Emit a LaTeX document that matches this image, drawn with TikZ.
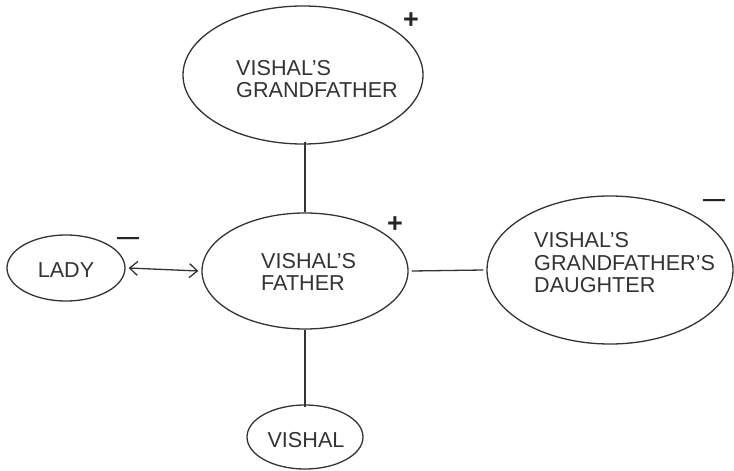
\documentclass[tikz,border=0pt]{standalone}
\usepackage{fontspec}
\setmainfont{Liberation Sans}
\usetikzlibrary{shapes.geometric,arrows.meta}
\begin{document}
\begin{tikzpicture}[x=1pt,y=-1pt,
  person/.style={draw=black!80,line width=1.3pt,ellipse,inner sep=0pt},
  kinlabel/.style={text=black!80,font=\fontsize{21.6}{22.5}\selectfont,align=left,inner sep=0pt},
  kinsign/.style={text=black!85,inner sep=0pt},
  kinlink/.style={draw=black!80,line width=1.3pt}]
\useasboundingbox (0,0) rectangle (734,471);
% relatives as ellipses
\node[person,minimum width=240,minimum height=138] (gf) at (303,75) {};
\node[person,minimum width=206,minimum height=116] (fa) at (305,271) {};
\node[person,minimum width=118,minimum height=66] (la) at (66,268) {};
\node[person,minimum width=246,minimum height=148] (da) at (610,270) {};
\node[person,minimum width=116,minimum height=64] (vi) at (305,437) {};
% their names
\node[kinlabel,anchor=west] (gft) at (236,79) {VISHAL'S\\GRANDFATHER};
\node[kinlabel,anchor=west] (fat) at (261,272) {VISHAL'S\\FATHER};
\node[kinlabel] (lat) at (66,270) {LADY};
\node[kinlabel,anchor=west] (dat) at (534,263) {VISHAL'S\\GRANDFATHER'S\\DAUGHTER};
\node[kinlabel] (vit) at (306,440) {VISHAL};
% signs
\node[kinsign,font=\bfseries\fontsize{27}{27}\selectfont] (sgf) at (411,21) {+};
\node[kinsign,font=\bfseries\fontsize{27}{27}\selectfont] (sfa) at (395,225) {+};
\node[kinsign,font=\bfseries\fontsize{22}{22}\selectfont] (sla) at (128,241) {—};
\node[kinsign,font=\bfseries\fontsize{22}{22}\selectfont] (sda) at (714,203) {—};
% relations
\draw[kinlink] ([yshift=3]gf.south -| fa.north) -- (fa.north);
\draw[kinlink] ([xshift=3]fa.east) -- ([xshift=-3]da.west);
\draw[kinlink] (fa.south) -- ([yshift=-3]vi.north);
\draw[kinlink,{Straight Barb[length=8pt,width=14pt]}-{Straight Barb[length=8pt,width=14pt]}]
  ([xshift=3]la.east) -- ([xshift=-3]fa.west);
\end{tikzpicture}
\end{document}
